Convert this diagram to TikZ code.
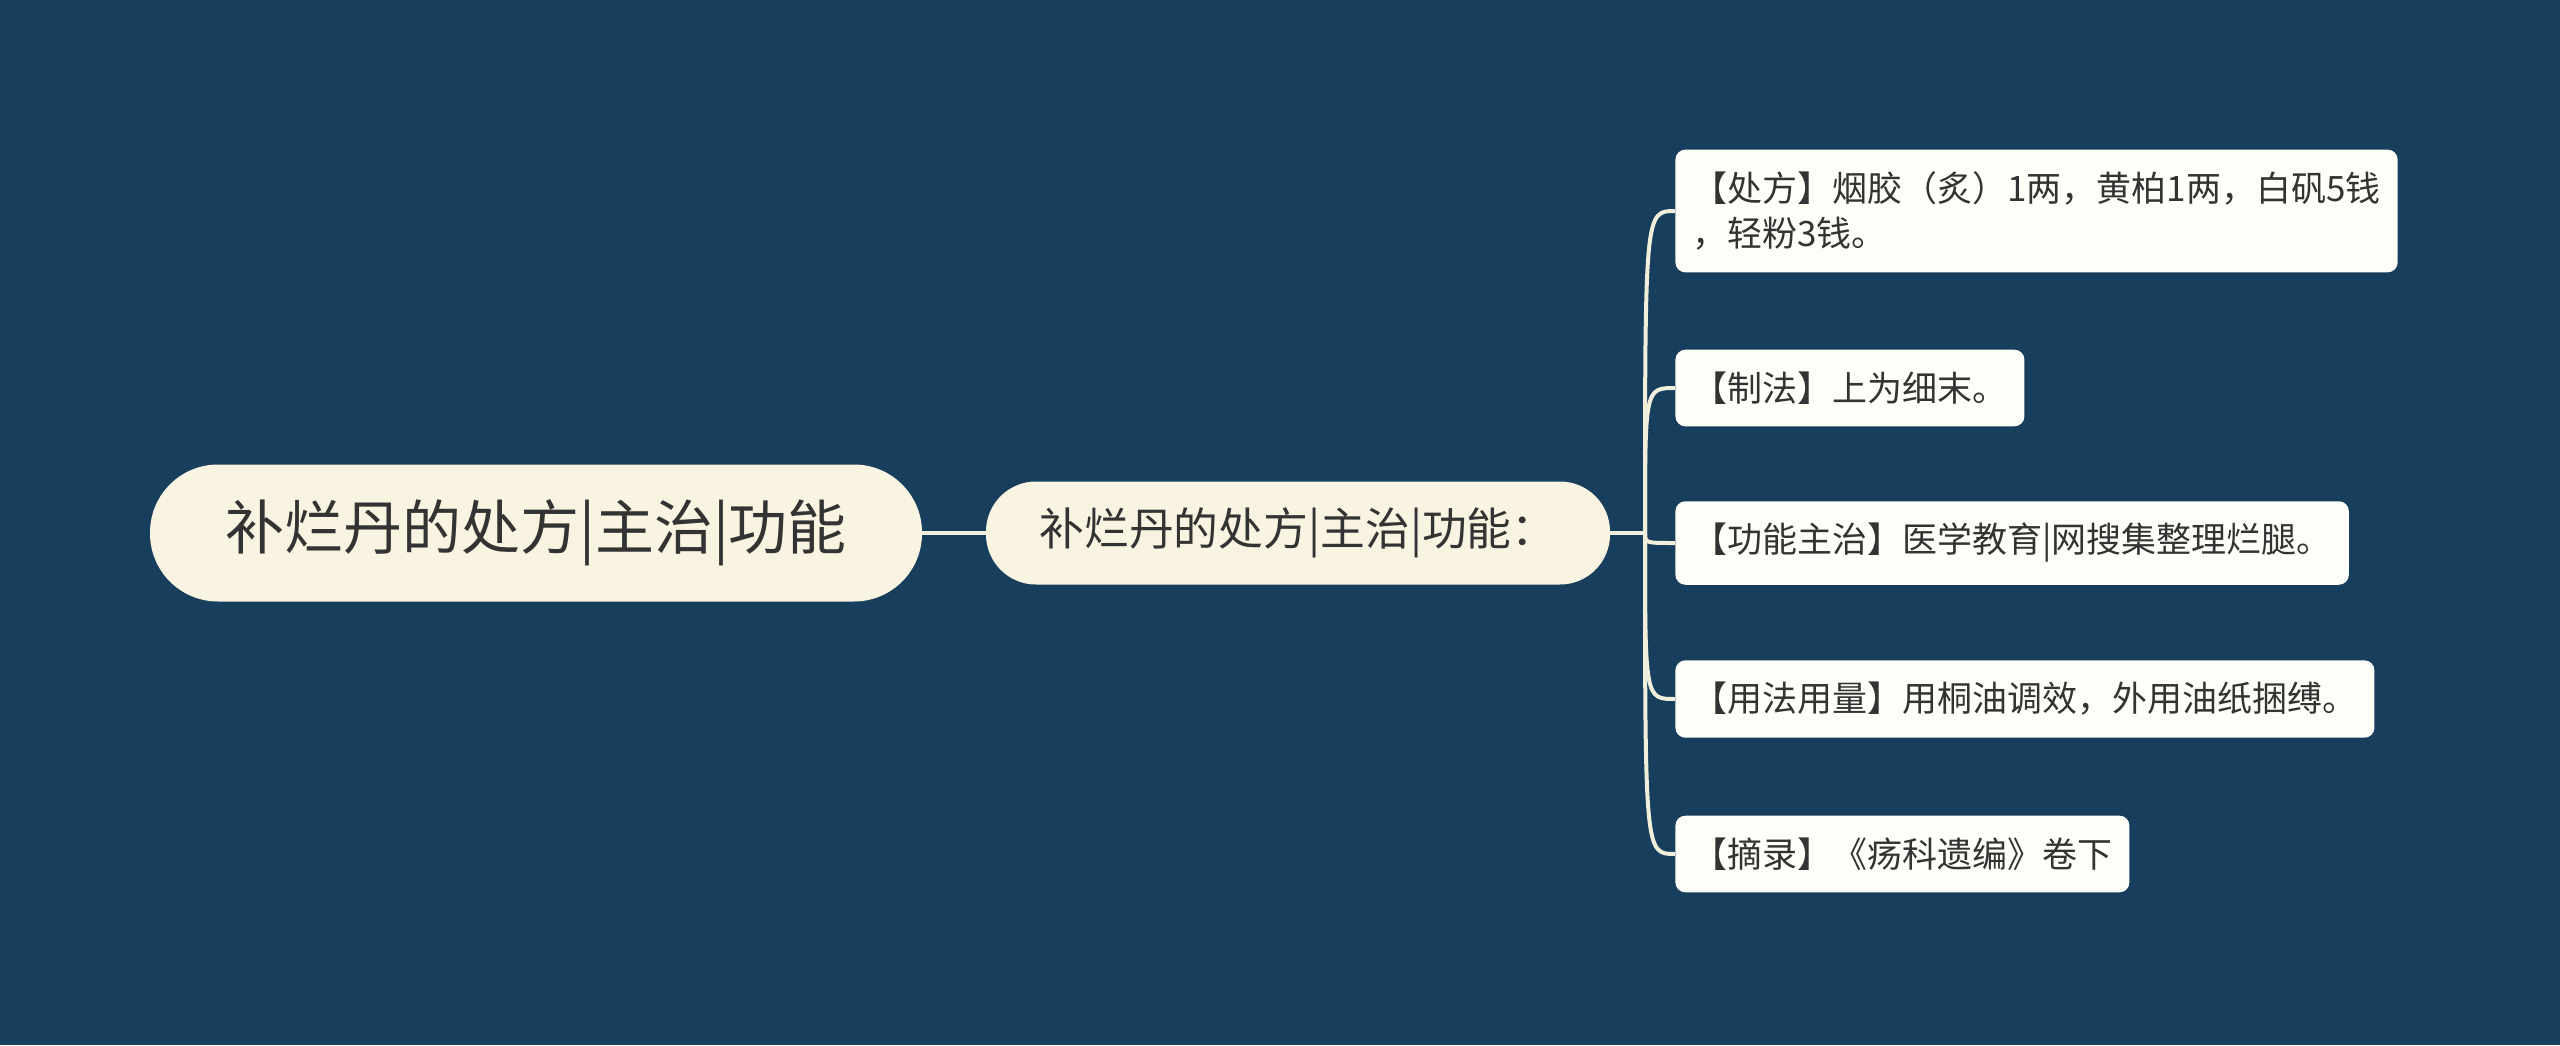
\documentclass[tikz,border=0pt]{standalone}
\usepackage{fontspec}
\setmainfont{Noto Sans CJK SC}
\usetikzlibrary{positioning}
\definecolor{bgnavy}{HTML}{183E5E}
\definecolor{creamfill}{HTML}{F8F4E1}
\definecolor{leaffill}{HTML}{FEFEF9}
\definecolor{linecream}{HTML}{F2EEDC}
\definecolor{inkgrey}{HTML}{333333}

\begin{document}
\begin{tikzpicture}[x=0.5pt,y=-0.5pt,
  rootbox/.style={fill=creamfill,rounded corners=34pt,minimum width=386pt,minimum height=68.5pt,inner sep=0pt,text=inkgrey,font=\fontsize{29.5pt}{35pt}\selectfont},
  subbox/.style={fill=creamfill,rounded corners=25pt,minimum width=312pt,minimum height=51.5pt,inner sep=0pt,text=inkgrey,font=\fontsize{22.4pt}{27pt}\selectfont},
  leafbox/.style={fill=leaffill,rounded corners=5pt,anchor=west,align=left,inner xsep=8.5pt,inner ysep=11pt,text=inkgrey,font=\fontsize{17.5pt}{22.5pt}\selectfont},
  branch/.style={draw=linecream,line width=2pt}]
  \fill[bgnavy] (0,0) rectangle (2560,1045);
  \useasboundingbox (0,0) rectangle (2560,1045);
  \node[rootbox] (root) at (536,533) {补烂丹的处方|主治|功能};
  \node[subbox] (sub) at (1298,533) {补烂丹的处方|主治|功能：};
  \coordinate (J) at (1645,533);
  \draw[branch] (root.east) -- (sub.west);
  \draw[branch] (sub.east) -- (J);
  \foreach \i/\yy/\lab in {1/211/{【处方】烟胶（炙）1两，黄柏1两，白矾5钱\\，轻粉3钱。},
      2/388/{【制法】上为细末。},
      3/543/{【功能主治】医学教育|网搜集整理烂腿。},
      4/699/{【用法用量】用桐油调效，外用油纸捆缚。},
      5/854/{【摘录】《疡科遗编》卷下}}{
    \node[leafbox] (leaf\i) at (1675,\yy) {\lab};
    \draw[branch] (J) .. controls (1645,\yy) and (1645,\yy) .. (leaf\i.west);
  }
\end{tikzpicture}
\end{document}
